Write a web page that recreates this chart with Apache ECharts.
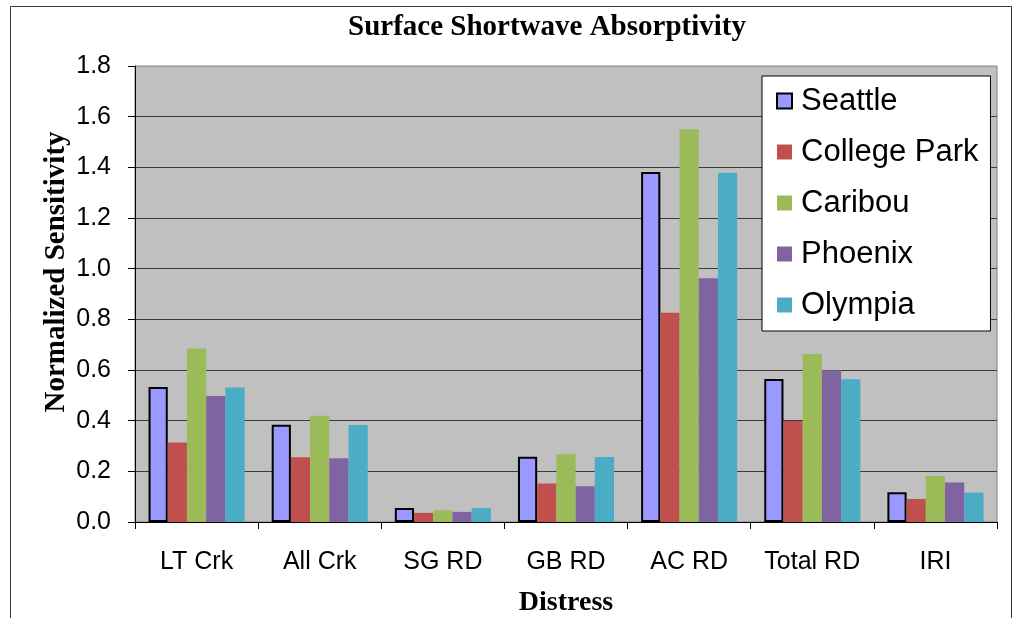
<!DOCTYPE html>
<html>
<head>
<meta charset="utf-8">
<script src="https://cdn.jsdelivr.net/npm/echarts@6/dist/echarts.min.js"></script>
<style>
  html, body { margin: 0; padding: 0; background: #ffffff; }
  #chart { width: 1018px; height: 618px; }
</style>
</head>
<body>
<div id="chart"></div>
<script>
// Distress categories along the x axis
const categories = ['LT Crk', 'All Crk', 'SG RD', 'GB RD', 'AC RD', 'Total RD', 'IRI'];

// Normalized sensitivity to surface shortwave absorptivity, one array per site
const seattle     = [0.533, 0.384, 0.055, 0.258, 1.382, 0.564, 0.117];
const collegePark = [0.314, 0.256, 0.036, 0.152, 0.826, 0.399, 0.091];
const caribou     = [0.685, 0.419, 0.046, 0.267, 1.550, 0.663, 0.182];
const phoenix     = [0.497, 0.252, 0.040, 0.141, 0.962, 0.599, 0.156];
const olympia     = [0.531, 0.383, 0.055, 0.257, 1.379, 0.563, 0.116];

const seriesNames = ['Seattle', 'College Park', 'Caribou', 'Phoenix', 'Olympia'];
const seriesData = [seattle, collegePark, caribou, phoenix, olympia];
const seriesColors = ['#9999FF', '#C0504D', '#9BBB59', '#8064A2', '#4BACC6'];

// y axis ticks
const yMin = 0;
const yMax = 1.8;
const yStep = 0.2;

const SANS = 'Liberation Sans, Arial, sans-serif';
const SERIF = 'Liberation Serif, Times New Roman, serif';

const chart = echarts.init(document.getElementById('chart'), null, { renderer: 'canvas' });

const series = seriesNames.map((name, i) => ({
  name: name,
  type: 'bar',
  data: seriesData[i],
  barGap: '0%',
  barCategoryGap: '22%',
  itemStyle: i === 0
    ? { color: seriesColors[i], borderColor: '#000000', borderWidth: 2 }
    : { color: seriesColors[i] },
  emphasis: { disabled: true }
}));

chart.setOption({
  animation: false,
  grid: {
    left: 135, right: 21, top: 66, bottom: 96,
    show: true,
    backgroundColor: '#C0C0C0',
    borderColor: '#808080',
    borderWidth: 1
  },
  legend: {
    orient: 'vertical',
    left: 762,
    top: 76,
    padding: [7, 12, 8, 14],
    backgroundColor: '#ffffff',
    borderColor: '#000000',
    borderWidth: 1,
    icon: 'rect',
    itemWidth: 15,
    itemHeight: 15,
    itemGap: 15,
    textStyle: {
      fontFamily: SANS, fontSize: 31, color: '#000000', lineHeight: 36,
      padding: [0, 0, 0, 4]
    },
    data: seriesNames
  },
  xAxis: {
    type: 'category',
    data: categories,
    axisLine: { show: true, lineStyle: { color: '#000000', width: 1 } },
    axisTick: { show: true, length: 7, lineStyle: { color: '#000000' } },
    axisLabel: { interval: 0, fontFamily: SANS, fontSize: 25, color: '#000000', margin: 28 },
    splitLine: { show: false }
  },
  yAxis: {
    type: 'value',
    min: yMin,
    max: yMax,
    interval: yStep,
    axisLine: { show: true, lineStyle: { color: '#000000', width: 1 } },
    axisTick: { show: true, length: 7, lineStyle: { color: '#000000' } },
    axisLabel: {
      fontFamily: SANS, fontSize: 25, color: '#000000', margin: 24,
      formatter: v => v.toFixed(1)
    },
    splitLine: {
      show: true,
      showMinLine: false,
      showMaxLine: false,
      lineStyle: { color: '#3a3a3a', width: 1 }
    }
  },
  graphic: [
    {
      type: 'rect',
      silent: true,
      z: -10,
      shape: { x: 10.5, y: 6.5, width: 1001, height: 700 },
      style: { fill: null, stroke: '#3a3a3a', lineWidth: 1 }
    },
    {
      type: 'text',
      silent: true,
      x: 547,
      y: 28,
      style: {
        text: 'Surface Shortwave Absorptivity',
        fontFamily: SERIF, fontWeight: 'bold', fontSize: 29,
        fill: '#000000', textAlign: 'center', textVerticalAlign: 'middle'
      }
    },
    {
      type: 'text',
      silent: true,
      x: 57,
      y: 272,
      rotation: Math.PI / 2,
      style: {
        text: 'Normalized Sensitivity',
        fontFamily: SERIF, fontWeight: 'bold', fontSize: 29,
        fill: '#000000', textAlign: 'center', textVerticalAlign: 'middle'
      }
    },
    {
      type: 'text',
      silent: true,
      x: 566,
      y: 603,
      style: {
        text: 'Distress',
        fontFamily: SERIF, fontWeight: 'bold', fontSize: 28,
        fill: '#000000', textAlign: 'center', textVerticalAlign: 'middle'
      }
    }
  ],
  series: series
});
</script>
</body>
</html>
